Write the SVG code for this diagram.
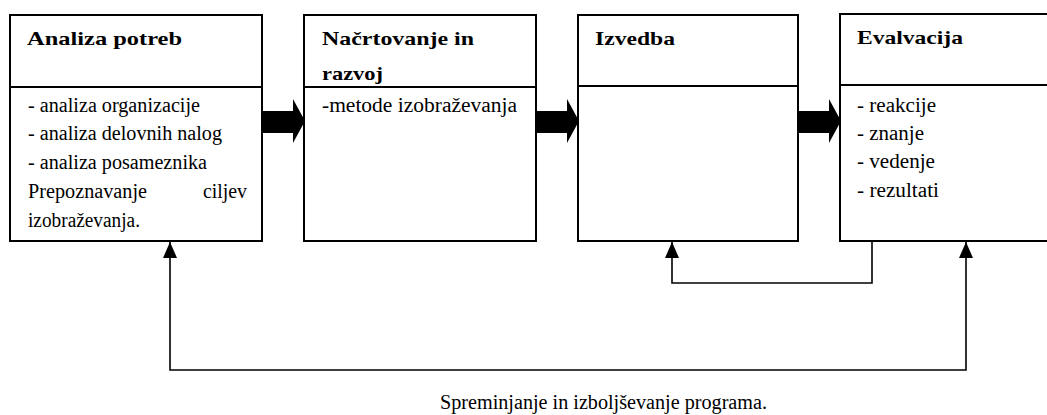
<svg xmlns="http://www.w3.org/2000/svg" width="1047" height="415" viewBox="0 0 1047 415">
<style>
.box{fill:#fff;stroke:#000;stroke-width:2}
.div{stroke:#000;stroke-width:2}
.t{font-family:"Liberation Serif","Times New Roman",serif;font-weight:bold;font-size:19.5px;fill:#000}
.b{font-family:"Liberation Serif","Times New Roman",serif;font-size:20px;fill:#000}
.c{fill:none;stroke:#000;stroke-width:1.6}
.fat{fill:#000}
</style>
<defs>
<marker id="ah" viewBox="0 0 16 14" refX="16" refY="7" markerWidth="16" markerHeight="14" markerUnits="userSpaceOnUse" orient="auto-start-reverse">
<path d="M0,0 L16,7 L0,14 Z" fill="#000"/>
</marker>
</defs>
<rect width="1047" height="415" fill="#fff"/>
<g id="node-analiza">
<rect class="box" x="10" y="15" width="252" height="226"/>
<line class="div" x1="10" y1="87" x2="262" y2="87"/>
<text class="t" x="27" y="45" textLength="155" lengthAdjust="spacingAndGlyphs">Analiza potreb</text>
<text class="b" x="28" y="112" textLength="172" lengthAdjust="spacingAndGlyphs">- analiza organizacije</text>
<text class="b" x="28" y="140" textLength="194" lengthAdjust="spacingAndGlyphs">- analiza delovnih nalog</text>
<text class="b" x="28" y="169" textLength="179" lengthAdjust="spacingAndGlyphs">- analiza posameznika</text>
<text class="b" x="28" y="198" textLength="119" lengthAdjust="spacingAndGlyphs">Prepoznavanje</text>
<text class="b" x="203" y="198" textLength="44" lengthAdjust="spacingAndGlyphs">ciljev</text>
<text class="b" x="28" y="227" textLength="112" lengthAdjust="spacingAndGlyphs">izobraževanja.</text>
</g>
<g id="node-nacrtovanje">
<rect class="box" x="304" y="15" width="232" height="226"/>
<line class="div" x1="304" y1="87" x2="536" y2="87"/>
<text class="t" x="322" y="45" textLength="152" lengthAdjust="spacingAndGlyphs">Načrtovanje in</text>
<text class="t" x="322" y="80" textLength="61" lengthAdjust="spacingAndGlyphs">razvoj</text>
<text class="b" x="322" y="112" textLength="195" lengthAdjust="spacingAndGlyphs">-metode izobraževanja</text>
</g>
<g id="node-izvedba">
<rect class="box" x="578" y="15" width="220" height="226"/>
<line class="div" x1="578" y1="86" x2="798" y2="86"/>
<text class="t" x="595" y="45" textLength="80" lengthAdjust="spacingAndGlyphs">Izvedba</text>
</g>
<g id="node-evalvacija">
<rect class="box" x="840" y="14" width="230" height="227"/>
<line class="div" x1="840" y1="85" x2="1047" y2="85"/>
<text class="t" x="857" y="44" textLength="106" lengthAdjust="spacingAndGlyphs">Evalvacija</text>
<text class="b" x="857" y="112" textLength="79" lengthAdjust="spacingAndGlyphs">- reakcije</text>
<text class="b" x="857" y="140" textLength="67" lengthAdjust="spacingAndGlyphs">- znanje</text>
<text class="b" x="857" y="168" textLength="78" lengthAdjust="spacingAndGlyphs">- vedenje</text>
<text class="b" x="857" y="197" textLength="82" lengthAdjust="spacingAndGlyphs">- rezultati</text>
</g>
<g id="connectors">
<path class="fat" d="M263,111 L293,111 L293,99 L305,121 L293,143 L293,133 L263,133 Z"/>
<path class="fat" d="M537,111 L567,111 L567,99 L579,121 L567,143 L567,133 L537,133 Z"/>
<path class="fat" d="M799,111 L829,111 L829,99 L841,121 L829,143 L829,133 L799,133 Z"/>
<path class="c" d="M872,242 L872,283 L672,283 L672,242" marker-end="url(#ah)"/>
<path class="c" d="M966,242 L966,370 L170,370 L170,242" marker-start="url(#ah)" marker-end="url(#ah)"/>
</g>
<text class="b" x="440" y="409" textLength="327" lengthAdjust="spacingAndGlyphs">Spreminjanje in izboljševanje programa.</text>
</svg>
